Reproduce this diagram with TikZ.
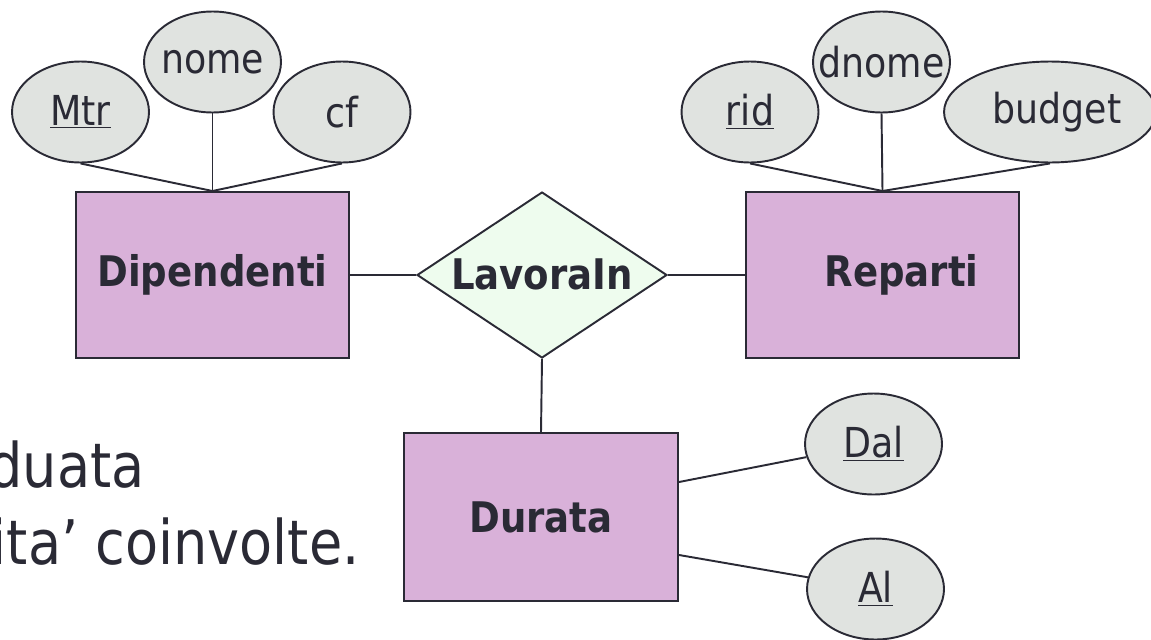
\documentclass[tikz,border=0pt]{standalone}
\usepackage{fontspec}
\setmainfont[FakeStretch=0.88]{DejaVu Sans}
\usetikzlibrary{shapes.geometric}
\definecolor{inkdark}{HTML}{2A2A35}
\definecolor{entfill}{HTML}{D9B1D9}
\definecolor{attrfill}{HTML}{E0E3E0}
\definecolor{relfill}{HTML}{EEFCEE}

\begin{document}
\begin{tikzpicture}[x=0.02cm, y=-0.02cm,
            ent/.style={rectangle, draw=inkdark, line width=1.15pt, fill=entfill, text=inkdark,
                minimum width=5.46cm, minimum height=3.32cm, font=\fontsize{24}{28}\selectfont\bfseries},
            rel/.style={diamond, draw=inkdark, line width=1.1pt, fill=relfill, text=inkdark,
                inner sep=0pt, aspect=1.5, minimum width=5cm, minimum height=3.32cm,
                text height=17pt, text depth=0pt, font=\fontsize{24}{28}\selectfont\bfseries},
            attr/.style={ellipse, draw=inkdark, line width=1.1pt, fill=attrfill, text=inkdark,
                inner sep=0pt, minimum width=2.74cm, minimum height=2.02cm, font=\fontsize{23.5}{28}\selectfont},
            link/.style={draw=inkdark, line width=1.1pt}]
            \useasboundingbox (0,0) rectangle (1151,639);
            % Text of the slide
            \node[anchor=base east, inner sep=0pt, text=inkdark, font=\fontsize{35}{42}\selectfont] (txtone) at (145,487) {duata};
            \node[anchor=base east, inner sep=0pt, text=inkdark, font=\fontsize{35}{42}\selectfont] (txttwo) at (360,564) {ita’ coinvolte.};
            % Entities and relationship
            \node[ent] (dip) at (212.5,275) {Dipendenti};
            \node[ent] (rep) at (882.5,275) {\hspace*{0.76cm}Reparti};
            \node[rel] (lav) at (542,275) {LavoraIn};
            \node[ent, minimum width=5.48cm, minimum height=3.36cm] (dur) at (541,517) {Durata};
            % Attributes
            \node[attr] (mtr) at (80.5,112) {\makebox[0pt]{\underline{Mtr}}};
            \node[attr] (nome) at (212.5,62) {\makebox[0pt]{nome}};
            \node[attr] (cf) at (342,112) {\makebox[0pt]{cf}};
            \node[attr] (rid) at (750,112) {\makebox[0pt]{\underline{rid}}};
            \node[attr] (dnome) at (881.5,62) {\makebox[0pt]{dnome}};
            \node[attr, minimum width=4.24cm] (budget) at (1050,112) {\makebox[0pt]{\hspace*{0.28cm}budget}};
            \node[attr] (dal) at (873.5,444) {\makebox[0pt]{\underline{Dal}}};
            \node[attr] (al) at (875.5,589) {\makebox[0pt]{\underline{Al}}};
            % Connectors
            \draw[link] (mtr.south) -- (dip.north);
            \draw[link] (nome.south) -- (dip.north);
            \draw[link] (cf.south) -- (dip.north);
            \draw[link] (rid.south) -- (rep.north);
            \draw[link] (dnome.south) -- (rep.north);
            \draw[link] (budget.south) -- (rep.north);
            \draw[link] (dip.east) -- (lav.west);
            \draw[link] (lav.east) -- (rep.west);
            \draw[link] (lav.south) -- (dur.north);
            \draw[link] ([yshift=0.7cm]dur.east) -- (dal);
            \draw[link] ([yshift=-0.76cm]dur.east) -- (al);
        \end{tikzpicture}
\end{document}
